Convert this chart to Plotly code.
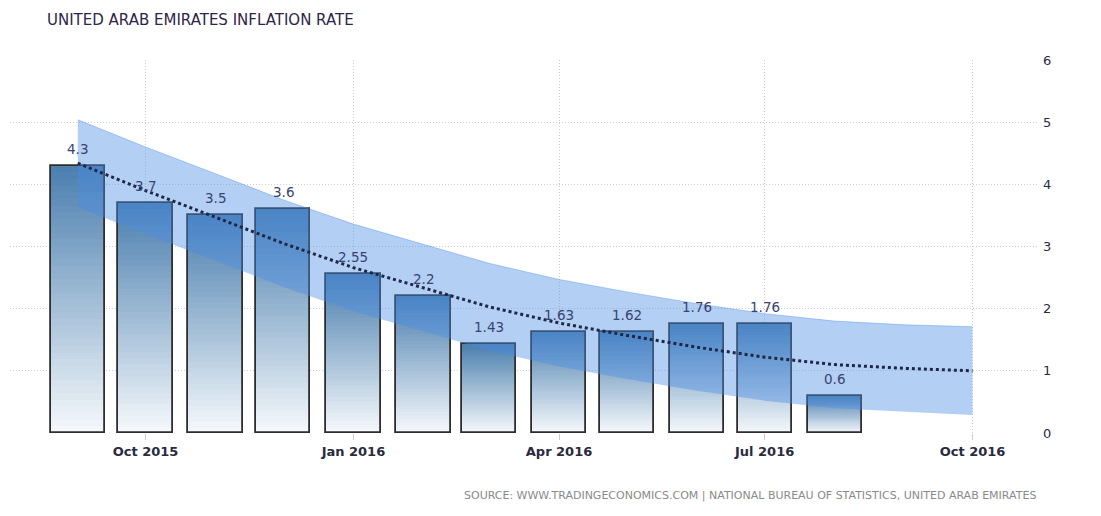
import plotly.graph_objects as go

# ---- data ----
months = ["2015-09-01", "2015-10-01", "2015-11-01", "2015-12-01", "2016-01-01",
          "2016-02-01", "2016-03-01", "2016-04-01", "2016-05-01", "2016-06-01",
          "2016-07-01", "2016-08-01"]
inflation = [4.3, 3.7, 3.5, 3.6, 2.55, 2.2, 1.43, 1.63, 1.62, 1.76, 1.76, 0.6]
labels = ["4.3", "3.7", "3.5", "3.6", "2.55", "2.2", "1.43", "1.63", "1.62", "1.76", "1.76", "0.6"]

trend_months = ["2015-09-01", "2015-10-01", "2015-11-01", "2015-12-01", "2016-01-01",
                "2016-02-01", "2016-03-01", "2016-04-01", "2016-05-01", "2016-06-01",
                "2016-07-01", "2016-08-01", "2016-09-01", "2016-10-01"]
trend = [4.34, 3.9, 3.47, 3.05, 2.66, 2.33, 2.03, 1.77, 1.57, 1.38, 1.22, 1.1, 1.04, 1.0]
band_upper = [5.04, 4.6, 4.17, 3.75, 3.36, 3.03, 2.73, 2.47, 2.27, 2.08, 1.92, 1.8, 1.74, 1.71]
band_lower = [3.63, 3.2, 2.77, 2.35, 1.96, 1.63, 1.33, 1.07, 0.87, 0.68, 0.52, 0.4, 0.34, 0.29]

x_ticks = ["2015-10-01", "2016-01-01", "2016-04-01", "2016-07-01", "2016-10-01"]
x_tick_text = ["Oct 2015", "Jan 2016", "Apr 2016", "Jul 2016", "Oct 2016"]
y_ticks = [0, 1, 2, 3, 4, 5, 6]

# ---- style ----
FONT = "DejaVu Sans"
BAR_W = 24 * 86400000
top_rgb = (74, 126, 174)
bot_rgb = (246, 249, 252)
K = 40
PLOT_W, PLOT_H = 1028, 373
ML, MT, MR, MB = 2, 52, 63, 83   # page body adds 8px offset

fig = go.Figure()

# gradient bars built from stacked segments
for k in range(K):
    t = (k + 0.5) / K
    c = tuple(round(bot_rgb[i] + (top_rgb[i] - bot_rgb[i]) * t) for i in range(3))
    fig.add_trace(go.Bar(
        x=months, y=[v / K for v in inflation], base=[v * k / K for v in inflation],
        width=BAR_W, marker=dict(color="rgb(%d,%d,%d)" % c, line=dict(width=0)),
        hoverinfo="skip", showlegend=False))

# outline
fig.add_trace(go.Bar(
    x=months, y=inflation, width=BAR_W,
    marker=dict(color="rgba(0,0,0,0)", line=dict(color="#2e2e2e", width=1.8)),
    showlegend=False))

# forecast band
fig.add_trace(go.Scatter(x=trend_months, y=band_lower, mode="lines",
                         line=dict(width=0, color="rgba(74,140,230,0)"),
                         showlegend=False, hoverinfo="skip"))
fig.add_trace(go.Scatter(x=trend_months, y=band_upper, mode="lines",
                         line=dict(width=0.8, color="rgba(74,140,230,0.5)"),
                         fill="tonexty", fillcolor="rgba(74,140,228,0.42)",
                         showlegend=False, hoverinfo="skip"))

# trend line
fig.add_trace(go.Scatter(x=trend_months, y=trend, mode="lines",
                         line=dict(color="#1d2846", width=3, dash="dot"),
                         showlegend=False))

annotations = [
    dict(x=m, y=v, text=s, xref="x", yref="y", showarrow=False,
         yshift=17, yanchor="middle", xanchor="center",
         font=dict(family=FONT, size=13.5, color="#3a4270"))
    for m, v, s in zip(months, inflation, labels)
]
annotations += [
    dict(text="UNITED ARAB EMIRATES INFLATION RATE", xref="paper", yref="paper",
         x=(45 - 10) / PLOT_W, y=1 + (60 - 20) / PLOT_H, xanchor="left", yanchor="middle",
         showarrow=False, font=dict(family=FONT, size=15, color="#2f2548")),
    dict(text="SOURCE: WWW.TRADINGECONOMICS.COM | NATIONAL BUREAU OF STATISTICS, UNITED ARAB EMIRATES",
         xref="paper", yref="paper", x=1, y=-(495 - 433) / PLOT_H,
         xanchor="right", yanchor="middle", showarrow=False,
         font=dict(family=FONT, size=11, color="#8a8a8a")),
]

fig.update_layout(
    width=ML + PLOT_W + MR, height=MT + PLOT_H + MB,
    margin=dict(l=ML, r=MR, t=MT, b=MB),
    paper_bgcolor="white", plot_bgcolor="white",
    barmode="overlay", bargap=0,
    font=dict(family=FONT, size=12, color="#333"),
    xaxis=dict(type="date", range=["2015-08-02", "2016-10-30"],
               tickvals=x_ticks, ticktext=x_tick_text,
               showgrid=True, gridcolor="#cfcfcf", griddash="1px,2px", gridwidth=1,
               ticks="outside", ticklen=6, tickcolor="#cccccc",
               tickfont=dict(family=FONT, size=13, color="#2a2a40", weight="bold"),
               showline=False, zeroline=False),
    yaxis=dict(range=[0, 6], tickvals=y_ticks, side="right",
               showgrid=True, gridcolor="#cfcfcf", griddash="1px,2px", gridwidth=1,
               tickfont=dict(family=FONT, size=13, color="#2a2a40"),
               ticks="", ticklabelstandoff=4, zeroline=False, showline=False),
    annotations=annotations,
)

fig.write_html("out.html")
